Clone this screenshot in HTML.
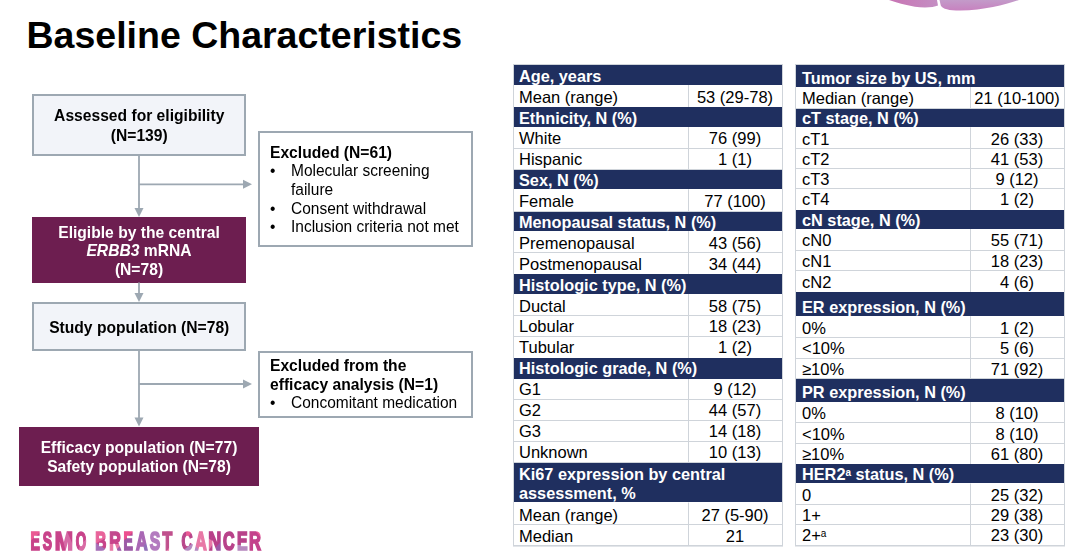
<!DOCTYPE html>
<html><head><meta charset="utf-8"><title>Baseline Characteristics</title>
<style>
html,body{margin:0;padding:0;background:#fff;}
body{width:1080px;height:552px;position:relative;overflow:hidden;font-family:"Liberation Sans",sans-serif;}
.t{position:absolute;white-space:nowrap;}
.r{position:absolute;box-sizing:border-box;}
sup{font-size:10px;vertical-align:0;position:relative;top:-4.5px;line-height:0;}
</style></head><body>
<svg style="position:absolute;left:0;top:0" width="1080" height="30" viewBox="0 0 1080 30">
<defs>
<linearGradient id="d1" x1="0" y1="0" x2="1" y2="0"><stop offset="0" stop-color="#c874b3"/><stop offset="1" stop-color="#c48ec3"/></linearGradient>
<linearGradient id="d2" x1="0" y1="0" x2="0" y2="1"><stop offset="0" stop-color="#c39bc9"/><stop offset="1" stop-color="#c781bf"/></linearGradient>
</defs>
<path d="M889 0 C899 3 911 7.3 925 7.5 C930.5 7.5 935 6.8 938 5.6 L937 0 Z" fill="url(#d1)"/>
<path d="M939.5 0 L940.8 5.5 C942.5 9 949 10.6 960 10.6 C985 10.2 1005 5 1019 0 Z" fill="url(#d2)"/>
</svg>
<div class="t" style="left:26.5px;top:12px;font-size:37.5px;line-height:47px;color:#000;font-weight:bold;">Baseline Characteristics</div>
<div class="r" style="left:31.5px;top:93.5px;width:214.5px;height:62.0px;background:#f2f4f9;border:2px solid #9da8b2;"></div>
<div class="r" style="left:258px;top:131px;width:215px;height:115.5px;background:#ffffff;border:2px solid #9da8b2;"></div>
<div class="r" style="left:32px;top:217px;width:214px;height:65.5px;background:#6d1e50;"></div>
<div class="r" style="left:31.5px;top:302px;width:214.5px;height:49px;background:#f2f4f9;border:2px solid #9da8b2;"></div>
<div class="r" style="left:258px;top:350.5px;width:215px;height:67.0px;background:#ffffff;border:2px solid #9da8b2;"></div>
<div class="r" style="left:19px;top:426.5px;width:240px;height:59.0px;background:#6d1e50;"></div>
<svg style="position:absolute;left:0;top:0" width="1080" height="552" viewBox="0 0 1080 552">
<g stroke="#9da8b2" stroke-width="1.8" fill="none">
<path d="M139 155.5 V209"/>
<path d="M139 184.3 H244"/>
<path d="M139 282.5 V294"/>
<path d="M139 351 V418"/>
<path d="M139 384 H244"/>
</g>
<g fill="#9da8b2">
<path d="M134.5 208 L143.5 208 L139 217 Z"/>
<path d="M134.5 293 L143.5 293 L139 302 Z"/>
<path d="M134.5 417.5 L143.5 417.5 L139 426.5 Z"/>
<path d="M243 179.8 L243 188.8 L252 184.3 Z"/>
<path d="M243 379.5 L243 388.5 L252 384 Z"/>
</g>
</svg>
<div class="t" style="left:31.5px;top:105px;font-size:16.3px;line-height:21px;color:#000;font-weight:bold;width:214.5px;text-align:center;transform:scaleX(0.96);transform-origin:50% 0;">Assessed for eligibility</div>
<div class="t" style="left:31.5px;top:124.5px;font-size:16.3px;line-height:21px;color:#000;font-weight:bold;width:214.5px;text-align:center;transform:scaleX(0.96);transform-origin:50% 0;">(N=139)</div>
<div class="t" style="left:270px;top:142px;font-size:16.3px;line-height:21px;color:#000;font-weight:bold;transform:scaleX(0.96);transform-origin:0 0;">Excluded (N=61)</div>
<div class="t" style="left:270px;top:160px;font-size:16.3px;line-height:21px;color:#000;transform:scaleX(0.951);transform-origin:0 0;">&bull;</div>
<div class="t" style="left:291px;top:160px;font-size:16.3px;line-height:21px;color:#000;transform:scaleX(0.951);transform-origin:0 0;">Molecular screening</div>
<div class="t" style="left:291px;top:179px;font-size:16.3px;line-height:21px;color:#000;transform:scaleX(0.951);transform-origin:0 0;">failure</div>
<div class="t" style="left:270px;top:197.5px;font-size:16.3px;line-height:21px;color:#000;transform:scaleX(0.951);transform-origin:0 0;">&bull;</div>
<div class="t" style="left:291px;top:197.5px;font-size:16.3px;line-height:21px;color:#000;transform:scaleX(0.951);transform-origin:0 0;">Consent withdrawal</div>
<div class="t" style="left:270px;top:216px;font-size:16.3px;line-height:21px;color:#000;transform:scaleX(0.951);transform-origin:0 0;">&bull;</div>
<div class="t" style="left:291px;top:216px;font-size:16.3px;line-height:21px;color:#000;transform:scaleX(0.951);transform-origin:0 0;">Inclusion criteria not met</div>
<div class="t" style="left:32px;top:221.5px;font-size:16.3px;line-height:21px;color:#fff;font-weight:bold;width:214px;text-align:center;transform:scaleX(0.96);transform-origin:50% 0;">Eligible by the central</div>
<div class="t" style="left:32px;top:240px;font-size:16.3px;line-height:21px;color:#fff;font-weight:bold;width:214px;text-align:center;transform:scaleX(0.96);transform-origin:50% 0;"><i>ERBB3</i> mRNA</div>
<div class="t" style="left:32px;top:259px;font-size:16.3px;line-height:21px;color:#fff;font-weight:bold;width:214px;text-align:center;transform:scaleX(0.96);transform-origin:50% 0;">(N=78)</div>
<div class="t" style="left:31.5px;top:317px;font-size:16.3px;line-height:21px;color:#000;font-weight:bold;width:214.5px;text-align:center;transform:scaleX(0.96);transform-origin:50% 0;">Study population (N=78)</div>
<div class="t" style="left:270px;top:355px;font-size:16.3px;line-height:21px;color:#000;font-weight:bold;transform:scaleX(0.96);transform-origin:0 0;">Excluded from the</div>
<div class="t" style="left:270px;top:373.5px;font-size:16.3px;line-height:21px;color:#000;font-weight:bold;transform:scaleX(0.96);transform-origin:0 0;">efficacy analysis (N=1)</div>
<div class="t" style="left:270px;top:392px;font-size:16.3px;line-height:21px;color:#000;transform:scaleX(0.951);transform-origin:0 0;">&bull;</div>
<div class="t" style="left:291px;top:392px;font-size:16.3px;line-height:21px;color:#000;transform:scaleX(0.951);transform-origin:0 0;">Concomitant medication</div>
<div class="t" style="left:19px;top:437px;font-size:16.3px;line-height:21px;color:#fff;font-weight:bold;width:240px;text-align:center;transform:scaleX(0.96);transform-origin:50% 0;">Efficacy population (N=77)</div>
<div class="t" style="left:19px;top:456px;font-size:16.3px;line-height:21px;color:#fff;font-weight:bold;width:240px;text-align:center;transform:scaleX(0.96);transform-origin:50% 0;">Safety population (N=78)</div>
<svg style="position:absolute;left:0;top:0" width="1080" height="552" viewBox="0 0 1080 552">
<defs><mask id="lm" maskUnits="userSpaceOnUse" x="0" y="500" width="400" height="52">
<g font-family="Liberation Sans" font-weight="bold" font-size="25.44" fill="#fff" stroke="#fff" stroke-width="1.70" vector-effect="non-scaling-stroke"><text transform="translate(30.51,549.75) scale(0.554,1)" x="0" y="0">E</text><text transform="translate(42.85,549.75) scale(0.545,1)" x="0" y="0">S</text><text transform="translate(54.78,549.75) scale(0.861,1)" x="0" y="0">M</text><text transform="translate(75.70,549.75) scale(0.532,1)" x="0" y="0">O</text><text transform="translate(95.22,549.75) scale(0.606,1)" x="0" y="0">B</text><text transform="translate(109.37,549.75) scale(0.633,1)" x="0" y="0">R</text><text transform="translate(123.61,549.75) scale(0.554,1)" x="0" y="0">E</text><text transform="translate(136.05,549.75) scale(0.633,1)" x="0" y="0">A</text><text transform="translate(149.69,549.75) scale(0.617,1)" x="0" y="0">S</text><text transform="translate(162.57,549.75) scale(0.627,1)" x="0" y="0">T</text><text transform="translate(181.42,549.75) scale(0.607,1)" x="0" y="0">C</text><text transform="translate(195.04,549.75) scale(0.639,1)" x="0" y="0">A</text><text transform="translate(208.34,549.75) scale(0.709,1)" x="0" y="0">N</text><text transform="translate(223.09,549.75) scale(0.631,1)" x="0" y="0">C</text><text transform="translate(236.89,549.75) scale(0.624,1)" x="0" y="0">E</text><text transform="translate(249.04,549.75) scale(0.651,1)" x="0" y="0">R</text></g>
</mask></defs>
<g mask="url(#lm)"><path fill="#c8438a" d="M20 520 H280 V552 H20 Z"/><path fill="#ea5a94" d="M28 529 H44 L28 543 Z"/><path fill="#d66aa6" d="M60 529 L66 529 L76 552 L66 552 Z"/><path fill="#d86aa4" d="M80 545 L90 536 L90 552 L78 552 Z"/><path fill="#e8639a" d="M93 529 H122 L93 545 Z"/><path fill="#a66fb7" d="M93 541 L110 552 H93 Z"/><path fill="#c24a8e" d="M106 529 L122 529 L112 540 Z"/><path fill="#e878a6" d="M106 544 L122 544 L122 552 L106 552 Z"/><path fill="#9f5aa7" d="M114 552 L122 544 L124 552 Z"/><path fill="#ec4f8f" d="M120 529 H136 L122 542 Z"/><path fill="#9c5aa6" d="M122 542 L136 532 L136 552 L122 552 Z"/><path fill="#a967b4" d="M136 529 H149 V552 H136 Z"/><path fill="#9070b8" d="M140 552 L149 538 L149 552 Z"/><path fill="#b37bbf" d="M149 529 H161 V552 H149 Z"/><path fill="#c0508d" d="M161 529 H176 V552 H161 Z"/><path fill="#e878a6" d="M166 552 L176 538 V552 Z"/><path fill="#b8468a" d="M178 529 H194 V552 H178 Z"/><path fill="#ea5a95" d="M186 529 H194 L186 540 Z"/><path fill="#b48ac1" d="M181 552 L194 542 V552 Z"/><path fill="#e878a6" d="M194 529 H208 V552 H194 Z"/><path fill="#b58ac0" d="M194 545 L202 552 H194 Z"/><path fill="#b8408a" d="M208 529 H222 V552 H208 Z"/><path fill="#e878a6" d="M208 538 L214 542 L208 552 Z"/><path fill="#9c5aa8" d="M212 552 L222 540 V552 Z"/><path fill="#b8428a" d="M222 529 H248 V552 H222 Z"/><path fill="#b88ac0" d="M236 545 L248 545 V552 H236 Z"/><path fill="#c3428b" d="M248 529 H264 V552 H248 Z"/><path fill="#ea5a97" d="M254 529 H264 V541 Z"/></g>
</svg>
<div class="r" style="left:514px;top:65px;width:268px;height:480.6px;background:#fff;"></div>
<svg style="position:absolute;left:0;top:0" width="1080" height="552"><g stroke="#cfd4da" stroke-width="1" fill="none"><rect x="513.5" y="64.5" width="269" height="481.6"/><path d="M514 107.5 H782"/><path d="M688.5 84.8 V107"/><path d="M514 148.5 H782"/><path d="M688.5 126.6 V148"/><path d="M514 169.5 H782"/><path d="M688.5 148 V169.7"/><path d="M514 211.5 H782"/><path d="M688.5 189.3 V211.6"/><path d="M514 252.5 H782"/><path d="M688.5 231.2 V252"/><path d="M514 274.5 H782"/><path d="M688.5 252 V274.1"/><path d="M514 315.5 H782"/><path d="M688.5 293.9 V315.9"/><path d="M514 336.5 H782"/><path d="M688.5 315.9 V336.8"/><path d="M514 358.5 H782"/><path d="M688.5 336.8 V358.4"/><path d="M514 399.5 H782"/><path d="M688.5 378.6 V399.3"/><path d="M514 420.5 H782"/><path d="M688.5 399.3 V420.8"/><path d="M514 441.5 H782"/><path d="M688.5 420.8 V441.2"/><path d="M514 462.5 H782"/><path d="M688.5 441.2 V462.6"/><path d="M514 524.5 H782"/><path d="M688.5 502.5 V524.3"/><path d="M514 545.5 H782"/><path d="M688.5 524.3 V545.6"/></g></svg>
<div class="r" style="left:514px;top:65px;width:268px;height:19.799999999999997px;background:#1f2f5f;"></div>
<div class="r" style="left:514px;top:107px;width:268px;height:19.599999999999994px;background:#1f2f5f;"></div>
<div class="r" style="left:514px;top:169.7px;width:268px;height:19.600000000000023px;background:#1f2f5f;"></div>
<div class="r" style="left:514px;top:211.6px;width:268px;height:19.599999999999994px;background:#1f2f5f;"></div>
<div class="r" style="left:514px;top:274.1px;width:268px;height:19.799999999999955px;background:#1f2f5f;"></div>
<div class="r" style="left:514px;top:358.4px;width:268px;height:20.200000000000045px;background:#1f2f5f;"></div>
<div class="r" style="left:514px;top:462.6px;width:268px;height:39.89999999999998px;background:#1f2f5f;"></div>
<div class="t" style="left:519px;top:66px;font-size:16.3px;line-height:21px;color:#fff;font-weight:bold;">Age, years</div>
<div class="t" style="left:519px;top:87px;font-size:16.5px;line-height:21px;color:#000;">Mean (range)</div>
<div class="t" style="left:688px;top:87px;font-size:16.5px;line-height:21px;color:#000;width:94px;text-align:center;">53 (29-78)</div>
<div class="t" style="left:519px;top:108px;font-size:16.3px;line-height:21px;color:#fff;font-weight:bold;">Ethnicity, N (%)</div>
<div class="t" style="left:519px;top:128px;font-size:16.5px;line-height:21px;color:#000;">White</div>
<div class="t" style="left:688px;top:128px;font-size:16.5px;line-height:21px;color:#000;width:94px;text-align:center;">76 (99)</div>
<div class="t" style="left:519px;top:149px;font-size:16.5px;line-height:21px;color:#000;">Hispanic</div>
<div class="t" style="left:688px;top:149px;font-size:16.5px;line-height:21px;color:#000;width:94px;text-align:center;">1 (1)</div>
<div class="t" style="left:519px;top:170px;font-size:16.3px;line-height:21px;color:#fff;font-weight:bold;">Sex, N (%)</div>
<div class="t" style="left:519px;top:191px;font-size:16.5px;line-height:21px;color:#000;">Female</div>
<div class="t" style="left:688px;top:191px;font-size:16.5px;line-height:21px;color:#000;width:94px;text-align:center;">77 (100)</div>
<div class="t" style="left:519px;top:212px;font-size:16.3px;line-height:21px;color:#fff;font-weight:bold;">Menopausal status, N (%)</div>
<div class="t" style="left:519px;top:233px;font-size:16.5px;line-height:21px;color:#000;">Premenopausal</div>
<div class="t" style="left:688px;top:233px;font-size:16.5px;line-height:21px;color:#000;width:94px;text-align:center;">43 (56)</div>
<div class="t" style="left:519px;top:254px;font-size:16.5px;line-height:21px;color:#000;">Postmenopausal</div>
<div class="t" style="left:688px;top:254px;font-size:16.5px;line-height:21px;color:#000;width:94px;text-align:center;">34 (44)</div>
<div class="t" style="left:519px;top:275px;font-size:16.3px;line-height:21px;color:#fff;font-weight:bold;">Histologic type, N (%)</div>
<div class="t" style="left:519px;top:296px;font-size:16.5px;line-height:21px;color:#000;">Ductal</div>
<div class="t" style="left:688px;top:296px;font-size:16.5px;line-height:21px;color:#000;width:94px;text-align:center;">58 (75)</div>
<div class="t" style="left:519px;top:316px;font-size:16.5px;line-height:21px;color:#000;">Lobular</div>
<div class="t" style="left:688px;top:316px;font-size:16.5px;line-height:21px;color:#000;width:94px;text-align:center;">18 (23)</div>
<div class="t" style="left:519px;top:337px;font-size:16.5px;line-height:21px;color:#000;">Tubular</div>
<div class="t" style="left:688px;top:337px;font-size:16.5px;line-height:21px;color:#000;width:94px;text-align:center;">1 (2)</div>
<div class="t" style="left:519px;top:358px;font-size:16.3px;line-height:21px;color:#fff;font-weight:bold;">Histologic grade, N (%)</div>
<div class="t" style="left:519px;top:379px;font-size:16.5px;line-height:21px;color:#000;">G1</div>
<div class="t" style="left:688px;top:379px;font-size:16.5px;line-height:21px;color:#000;width:94px;text-align:center;">9 (12)</div>
<div class="t" style="left:519px;top:400px;font-size:16.5px;line-height:21px;color:#000;">G2</div>
<div class="t" style="left:688px;top:400px;font-size:16.5px;line-height:21px;color:#000;width:94px;text-align:center;">44 (57)</div>
<div class="t" style="left:519px;top:421px;font-size:16.5px;line-height:21px;color:#000;">G3</div>
<div class="t" style="left:688px;top:421px;font-size:16.5px;line-height:21px;color:#000;width:94px;text-align:center;">14 (18)</div>
<div class="t" style="left:519px;top:442px;font-size:16.5px;line-height:21px;color:#000;">Unknown</div>
<div class="t" style="left:688px;top:442px;font-size:16.5px;line-height:21px;color:#000;width:94px;text-align:center;">10 (13)</div>
<div class="t" style="left:519px;top:464px;font-size:16.3px;line-height:21px;color:#fff;font-weight:bold;">Ki67 expression by central</div>
<div class="t" style="left:519px;top:483px;font-size:16.3px;line-height:21px;color:#fff;font-weight:bold;">assessment, %</div>
<div class="t" style="left:519px;top:505px;font-size:16.5px;line-height:21px;color:#000;">Mean (range)</div>
<div class="t" style="left:688px;top:505px;font-size:16.5px;line-height:21px;color:#000;width:94px;text-align:center;">27 (5-90)</div>
<div class="t" style="left:519px;top:526px;font-size:16.5px;line-height:21px;color:#000;">Median</div>
<div class="t" style="left:688px;top:526px;font-size:16.5px;line-height:21px;color:#000;width:94px;text-align:center;">21</div>
<div class="r" style="left:796px;top:65px;width:268px;height:480.5px;background:#fff;"></div>
<svg style="position:absolute;left:0;top:0" width="1080" height="552"><g stroke="#cfd4da" stroke-width="1" fill="none"><rect x="795.5" y="64.5" width="269" height="481.5"/><path d="M796 108.5 H1064"/><path d="M970.5 86.6 V108.7"/><path d="M796 148.5 H1064"/><path d="M970.5 127.3 V148.6"/><path d="M796 168.5 H1064"/><path d="M970.5 148.6 V168.7"/><path d="M796 188.5 H1064"/><path d="M970.5 168.7 V188.9"/><path d="M796 210.5 H1064"/><path d="M970.5 188.9 V210.3"/><path d="M796 250.5 H1064"/><path d="M970.5 228.8 V250.2"/><path d="M796 270.5 H1064"/><path d="M970.5 250.2 V270.4"/><path d="M796 292.5 H1064"/><path d="M970.5 270.4 V292.1"/><path d="M796 337.5 H1064"/><path d="M970.5 316.2 V337.6"/><path d="M796 358.5 H1064"/><path d="M970.5 337.6 V358.2"/><path d="M796 378.5 H1064"/><path d="M970.5 358.2 V378.9"/><path d="M796 422.5 H1064"/><path d="M970.5 401.8 V422.7"/><path d="M796 443.5 H1064"/><path d="M970.5 422.7 V443.5"/><path d="M796 464.5 H1064"/><path d="M970.5 443.5 V464.4"/><path d="M796 504.5 H1064"/><path d="M970.5 483.5 V504.6"/><path d="M796 524.5 H1064"/><path d="M970.5 504.6 V524.5"/><path d="M796 545.5 H1064"/><path d="M970.5 524.5 V545.5"/></g></svg>
<div class="r" style="left:796px;top:65px;width:268px;height:21.599999999999994px;background:#1f2f5f;"></div>
<div class="r" style="left:796px;top:108.7px;width:268px;height:18.599999999999994px;background:#1f2f5f;"></div>
<div class="r" style="left:796px;top:210.3px;width:268px;height:18.5px;background:#1f2f5f;"></div>
<div class="r" style="left:796px;top:292.1px;width:268px;height:24.099999999999966px;background:#1f2f5f;"></div>
<div class="r" style="left:796px;top:378.9px;width:268px;height:22.900000000000034px;background:#1f2f5f;"></div>
<div class="r" style="left:796px;top:464.4px;width:268px;height:19.100000000000023px;background:#1f2f5f;"></div>
<div class="t" style="left:802px;top:68px;font-size:16.3px;line-height:21px;color:#fff;font-weight:bold;">Tumor size by US, mm</div>
<div class="t" style="left:802px;top:88px;font-size:16.5px;line-height:21px;color:#000;">Median (range)</div>
<div class="t" style="left:970px;top:88px;font-size:16.5px;line-height:21px;color:#000;width:94px;text-align:center;">21 (10-100)</div>
<div class="t" style="left:802px;top:108px;font-size:16.3px;line-height:21px;color:#fff;font-weight:bold;">cT stage, N (%)</div>
<div class="t" style="left:802px;top:129px;font-size:16.5px;line-height:21px;color:#000;">cT1</div>
<div class="t" style="left:970px;top:129px;font-size:16.5px;line-height:21px;color:#000;width:94px;text-align:center;">26 (33)</div>
<div class="t" style="left:802px;top:149px;font-size:16.5px;line-height:21px;color:#000;">cT2</div>
<div class="t" style="left:970px;top:149px;font-size:16.5px;line-height:21px;color:#000;width:94px;text-align:center;">41 (53)</div>
<div class="t" style="left:802px;top:169px;font-size:16.5px;line-height:21px;color:#000;">cT3</div>
<div class="t" style="left:970px;top:169px;font-size:16.5px;line-height:21px;color:#000;width:94px;text-align:center;">9 (12)</div>
<div class="t" style="left:802px;top:189px;font-size:16.5px;line-height:21px;color:#000;">cT4</div>
<div class="t" style="left:970px;top:189px;font-size:16.5px;line-height:21px;color:#000;width:94px;text-align:center;">1 (2)</div>
<div class="t" style="left:802px;top:210px;font-size:16.3px;line-height:21px;color:#fff;font-weight:bold;">cN stage, N (%)</div>
<div class="t" style="left:802px;top:230px;font-size:16.5px;line-height:21px;color:#000;">cN0</div>
<div class="t" style="left:970px;top:230px;font-size:16.5px;line-height:21px;color:#000;width:94px;text-align:center;">55 (71)</div>
<div class="t" style="left:802px;top:251px;font-size:16.5px;line-height:21px;color:#000;">cN1</div>
<div class="t" style="left:970px;top:251px;font-size:16.5px;line-height:21px;color:#000;width:94px;text-align:center;">18 (23)</div>
<div class="t" style="left:802px;top:272px;font-size:16.5px;line-height:21px;color:#000;">cN2</div>
<div class="t" style="left:970px;top:272px;font-size:16.5px;line-height:21px;color:#000;width:94px;text-align:center;">4 (6)</div>
<div class="t" style="left:802px;top:297px;font-size:16.3px;line-height:21px;color:#fff;font-weight:bold;">ER expression, N (%)</div>
<div class="t" style="left:802px;top:318px;font-size:16.5px;line-height:21px;color:#000;">0%</div>
<div class="t" style="left:970px;top:318px;font-size:16.5px;line-height:21px;color:#000;width:94px;text-align:center;">1 (2)</div>
<div class="t" style="left:802px;top:338px;font-size:16.5px;line-height:21px;color:#000;">&lt;10%</div>
<div class="t" style="left:970px;top:338px;font-size:16.5px;line-height:21px;color:#000;width:94px;text-align:center;">5 (6)</div>
<div class="t" style="left:802px;top:359px;font-size:16.5px;line-height:21px;color:#000;">&ge;10%</div>
<div class="t" style="left:970px;top:359px;font-size:16.5px;line-height:21px;color:#000;width:94px;text-align:center;">71 (92)</div>
<div class="t" style="left:802px;top:382px;font-size:16.3px;line-height:21px;color:#fff;font-weight:bold;">PR expression, N (%)</div>
<div class="t" style="left:802px;top:403px;font-size:16.5px;line-height:21px;color:#000;">0%</div>
<div class="t" style="left:970px;top:403px;font-size:16.5px;line-height:21px;color:#000;width:94px;text-align:center;">8 (10)</div>
<div class="t" style="left:802px;top:424px;font-size:16.5px;line-height:21px;color:#000;">&lt;10%</div>
<div class="t" style="left:970px;top:424px;font-size:16.5px;line-height:21px;color:#000;width:94px;text-align:center;">8 (10)</div>
<div class="t" style="left:802px;top:444px;font-size:16.5px;line-height:21px;color:#000;">&ge;10%</div>
<div class="t" style="left:970px;top:444px;font-size:16.5px;line-height:21px;color:#000;width:94px;text-align:center;">61 (80)</div>
<div class="t" style="left:802px;top:464px;font-size:16.3px;line-height:21px;color:#fff;font-weight:bold;">HER2<sup>a</sup> status, N (%)</div>
<div class="t" style="left:802px;top:485px;font-size:16.5px;line-height:21px;color:#000;">0</div>
<div class="t" style="left:970px;top:485px;font-size:16.5px;line-height:21px;color:#000;width:94px;text-align:center;">25 (32)</div>
<div class="t" style="left:802px;top:505px;font-size:16.5px;line-height:21px;color:#000;">1+</div>
<div class="t" style="left:970px;top:505px;font-size:16.5px;line-height:21px;color:#000;width:94px;text-align:center;">29 (38)</div>
<div class="t" style="left:802px;top:525px;font-size:16.5px;line-height:21px;color:#000;">2+<sup>a</sup></div>
<div class="t" style="left:970px;top:525px;font-size:16.5px;line-height:21px;color:#000;width:94px;text-align:center;">23 (30)</div>
</body></html>
